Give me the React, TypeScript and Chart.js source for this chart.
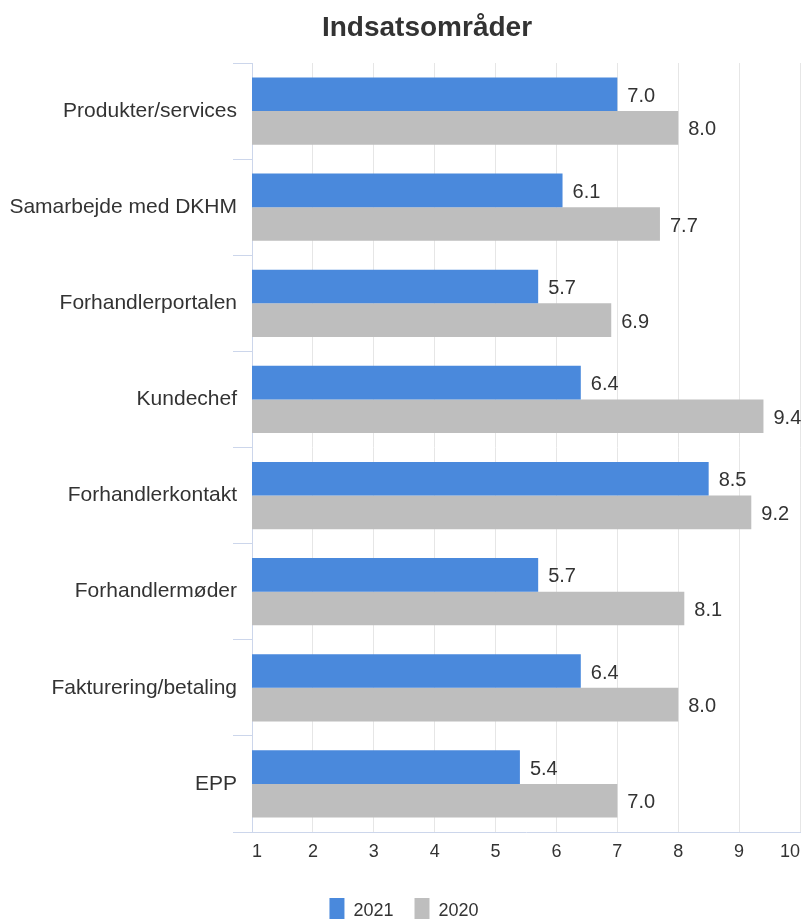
import { useEffect, useRef } from 'react';
import { Chart, registerables } from 'chart.js';

Chart.register(...registerables);

const CHART_TITLE = 'Indsatsområder';

const categories = [
  'Produkter/services',
  'Samarbejde med DKHM',
  'Forhandlerportalen',
  'Kundechef',
  'Forhandlerkontakt',
  'Forhandlermøder',
  'Fakturering/betaling',
  'EPP',
];

const seriesNames = ['2021', '2020'];
const values2021 = [7.0, 6.1, 5.7, 6.4, 8.5, 5.7, 6.4, 5.4];
const values2020 = [8.0, 7.7, 6.9, 9.4, 9.2, 8.1, 8.0, 7.0];

const axisMin = 1;
const axisMax = 10;
const axisStep = 1;

const FONT = '"Liberation Sans", Arial, Helvetica, sans-serif';
const TEXT = '#333333';
const AXIS_LINE = '#ccd6eb';
const GRID_LINE = '#e6e6e6';

// Title centred over the bars, drawn on the canvas.
const titlePlugin = {
  id: 'chartHeading',
  afterDraw(chart: any) {
    const { ctx } = chart;
    ctx.save();
    ctx.font = `bold 28px ${FONT}`;
    ctx.fillStyle = TEXT;
    ctx.textAlign = 'center';
    ctx.textBaseline = 'alphabetic';
    ctx.fillText(CHART_TITLE, 427, 36);
    ctx.restore();
  },
};

// Value written just to the right of each bar's end.
const valueLabels = {
  id: 'valueLabels',
  afterDatasetsDraw(chart: any) {
    const { ctx } = chart;
    ctx.save();
    ctx.font = `20px ${FONT}`;
    ctx.fillStyle = TEXT;
    ctx.textAlign = 'left';
    ctx.textBaseline = 'middle';
    chart.data.datasets.forEach((ds: any, i: number) => {
      const meta = chart.getDatasetMeta(i);
      meta.data.forEach((bar: any, j: number) => {
        ctx.fillText(Number(ds.data[j]).toFixed(1), bar.x + 10, bar.y + 2);
      });
    });
    ctx.restore();
  },
};

export default function App() {
  const canvasRef = useRef<HTMLCanvasElement>(null);

  useEffect(() => {
    document.body.style.margin = '0';
    document.body.style.overflow = 'hidden';
    document.documentElement.style.overflow = 'hidden';

    const chart = new Chart(canvasRef.current!, {
      type: 'bar',
      data: {
        labels: categories,
        datasets: [
          {
            label: seriesNames[0],
            data: values2021,
            backgroundColor: '#4a89dc',
            borderWidth: 0,
            categoryPercentage: 0.7,
            barPercentage: 1.0,
          },
          {
            label: seriesNames[1],
            data: values2020,
            backgroundColor: '#bebebe',
            borderWidth: 0,
            categoryPercentage: 0.7,
            barPercentage: 1.0,
          },
        ],
      },
      options: {
        indexAxis: 'y',
        responsive: false,
        animation: false,
        devicePixelRatio: 1,
        layout: { padding: { top: 63, left: 8, right: 3, bottom: 0 } },
        plugins: {
          title: { display: false },
          tooltip: { enabled: false },
          legend: {
            position: 'bottom',
            labels: {
              boxWidth: 15,
              boxHeight: 26,
              padding: 21,
              color: TEXT,
              font: { size: 18, family: FONT },
            },
          },
        },
        scales: {
          x: {
            type: 'linear',
            position: 'bottom',
            min: axisMin,
            max: axisMax,
            grid: { color: GRID_LINE, drawTicks: false },
            border: { color: AXIS_LINE, width: 1 },
            ticks: {
              stepSize: axisStep,
              align: 'inner',
              padding: 9,
              color: TEXT,
              maxRotation: 0,
              autoSkip: false,
              font: { size: 18, family: FONT },
            },
            afterFit: (scale: any) => {
              scale.height = 45;
              scale.paddingLeft = 0;
              scale.paddingRight = 0;
            },
          },
          y: {
            grid: { drawOnChartArea: false, color: AXIS_LINE, tickLength: 19 },
            border: { color: AXIS_LINE, width: 1 },
            ticks: {
              padding: -4,
              color: TEXT,
              autoSkip: false,
              font: { size: 21, family: FONT },
            },
            afterFit: (scale: any) => {
              scale.width = 244;
              scale.paddingTop = 0;
              scale.paddingBottom = 0;
            },
          },
        },
      } as any,
      plugins: [titlePlugin, valueLabels],
    });

    return () => chart.destroy();
  }, []);

  return (
    <canvas
      ref={canvasRef}
      width={803}
      height={934}
      style={{ display: 'block', width: 803, height: 934 }}
    />
  );
}
